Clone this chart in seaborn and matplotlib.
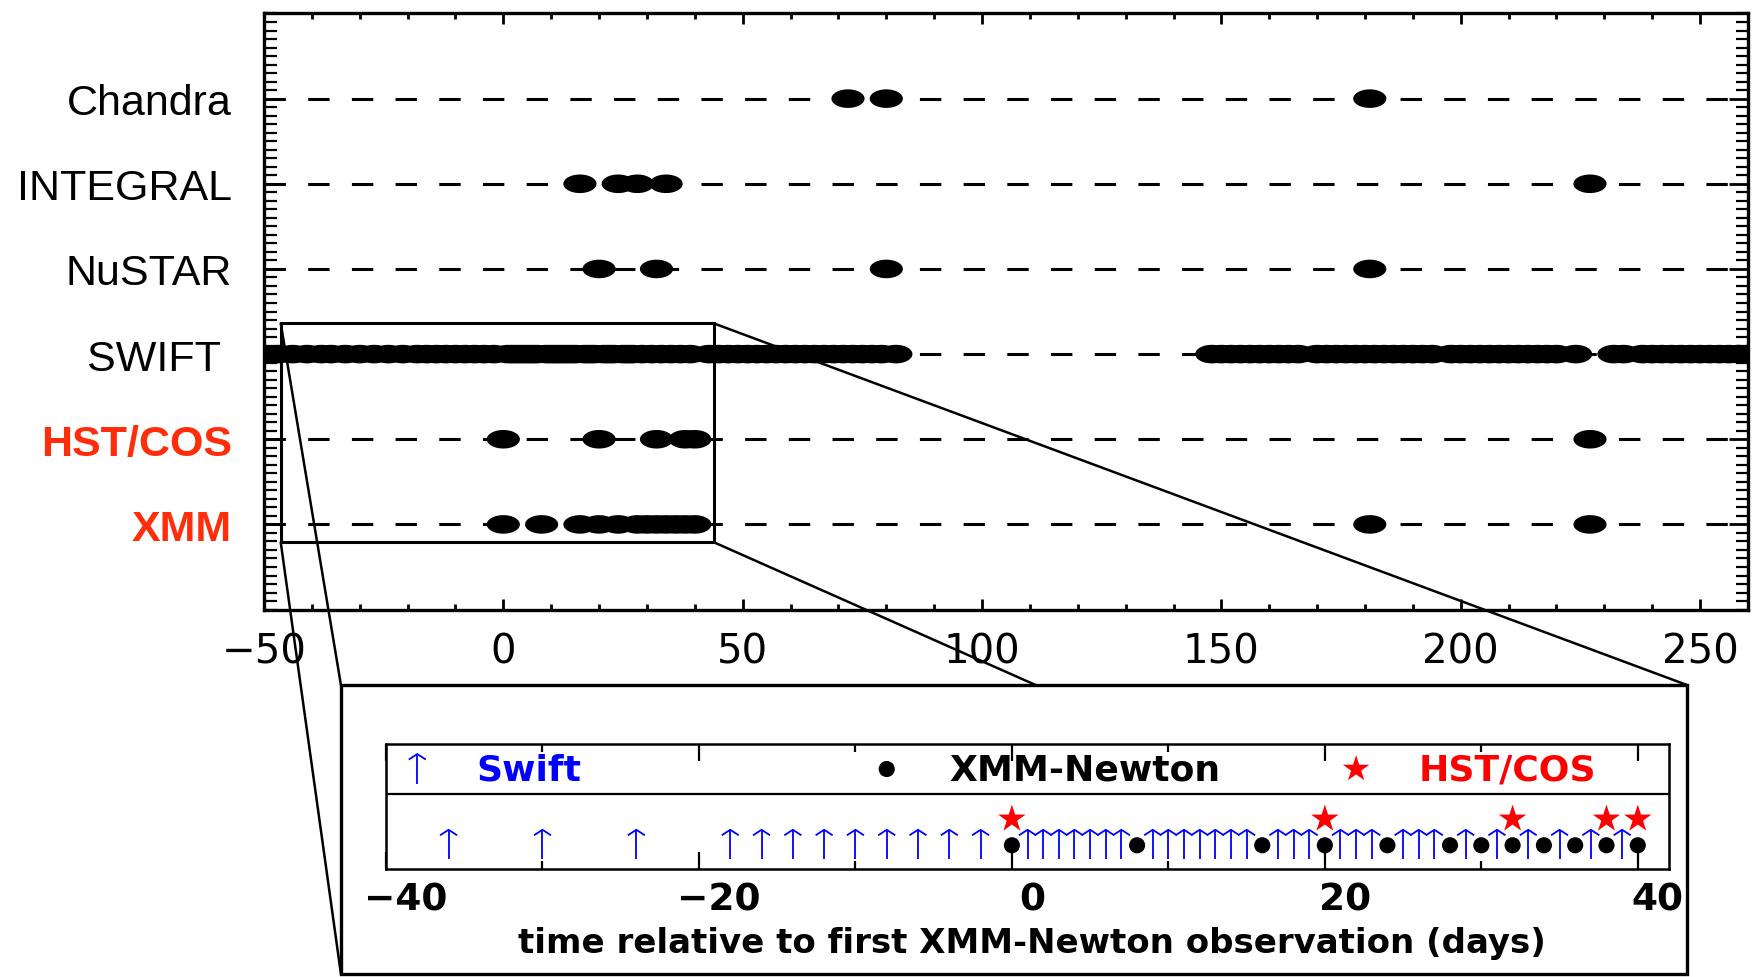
import numpy as np
import pandas as pd
import matplotlib
matplotlib.use("Agg")
import matplotlib.pyplot as plt
import seaborn as sns
from matplotlib.path import Path
from matplotlib.markers import MarkerStyle
from matplotlib.patches import Rectangle, ConnectionPatch
from matplotlib.ticker import MultipleLocator
from matplotlib.transforms import ScaledTranslation

# ---------------- data ----------------
instruments = ["XMM", "HST/COS", "SWIFT ", "NuSTAR", "INTEGRAL", "Chandra"]
label_colors = ["#ff2d0a", "#ff2d0a", "black", "black", "black", "black"]
label_weights = ["bold", "bold", "normal", "normal", "normal", "normal"]

chandra_t = [72, 80, 181]
integral_t = [16, 24, 28, 34, 227]
nustar_t = [20, 32, 80, 181]
# Swift pointings as they appear in the overview panel (dense coverage)
swift_main_t = [-50, -47, -44, -41, -38, -36, -33, -30, -27, -24, -21, -18, -16,
                -14, -12, -10, -8, -6, -4, -2, 1, 2, 3, 4, 5, 6, 7, 9, 10, 11, 12,
                13, 14, 15, 17, 18, 19, 21, 22, 23, 25, 26, 27, 29, 31, 33, 35, 37,
                39, 43, 45, 47, 49, 51, 53, 55, 57, 59, 61, 63, 65, 67, 69, 71, 73,
                75, 77, 79, 82,
                148, 150, 152, 154, 156, 158, 160, 162, 164, 166, 170, 172, 174,
                176, 178, 180, 182, 184, 186, 188, 190, 192, 194, 198, 200, 202,
                204, 206, 208, 210, 212, 214, 216, 218, 220, 224,
                232, 234, 238, 240, 242, 244, 246, 248, 250, 252, 254, 256, 258,
                260, 262]
# Swift pointings
swift_inset_t = [-36, -30, -24, -18, -16, -14, -12, -10, -8, -6, -4, -2,
                 1, 2, 3, 4, 5, 6, 7, 9, 10, 11, 12, 13, 14, 15, 17, 18, 19,
                 21, 22, 23, 25, 26, 27, 29, 31, 33, 35, 37, 39]
hst_t = [0, 20, 32, 38, 40, 227]
xmm_t = [0, 8, 16, 20, 24, 28, 30, 32, 34, 36, 38, 40, 181, 227]

series = [xmm_t, hst_t, swift_main_t, nustar_t, integral_t, chandra_t]

main_xticks = [-50, 0, 50, 100, 150, 200, 250]
inset_xticks = [-40, -20, 0, 20, 40]
legend_labels = ["Swift", "XMM-Newton", "HST/COS"]
inset_xlabel = "time relative to first XMM-Newton observation (days)"

# ---------------- style ----------------
sns.set_theme(style="white")
plt.rcParams["font.family"] = ["DejaVu Sans"]
plt.rcParams["axes.edgecolor"] = "black"
plt.rcParams["axes.labelcolor"] = "black"
plt.rcParams["text.color"] = "black"
plt.rcParams["xtick.color"] = "black"
plt.rcParams["ytick.color"] = "black"

fig = plt.figure(figsize=(17.61, 9.78), dpi=100)
fig.patch.set_facecolor("white")

# main axes
ax = fig.add_axes([0.1499, 0.3757, 0.8427, 0.6095])
ax.set_zorder(0)

rows = pd.DataFrame(
    [(inst, t) for inst, ts in zip(instruments, series) for t in ts],
    columns=["instrument", "time"],
)
row_pos = {name: i + 1 for i, name in enumerate(instruments)}
rows["row"] = rows["instrument"].map(row_pos)

theta = np.linspace(0, 2 * np.pi, 73)
ellipse = Path(np.column_stack([np.cos(theta), 0.56 * np.sin(theta)]), closed=True)

for name in instruments:
    ax.axhline(row_pos[name], color="black", lw=2.2, dashes=(7, 7.3), zorder=1)

sns.scatterplot(data=rows, x="time", y="row", marker=ellipse, s=570,
                color="black", edgecolor="none", linewidth=0, ax=ax,
                legend=False, zorder=3)

ax.set_xlim(-50, 260)
ax.set_ylim(0, 7)
ax.set_xlabel("")
ax.set_ylabel("")
ax.set_xticks(main_xticks)
ax.xaxis.set_minor_locator(MultipleLocator(10))
ax.set_yticks(range(1, len(instruments) + 1), labels=instruments)
ax.yaxis.set_minor_locator(MultipleLocator(0.1))
ax.tick_params(axis="x", which="both", direction="in", top=True, bottom=True)
ax.tick_params(axis="x", which="major", length=8, width=2, labelsize=29, pad=16)
ax.tick_params(axis="x", which="minor", length=4, width=2)
ax.tick_params(axis="y", which="both", direction="in", left=True, right=True)
ax.tick_params(axis="y", which="major", length=14, width=2, pad=23)
ax.tick_params(axis="y", which="minor", length=9, width=1.6)
for lbl, c, w in zip(ax.get_yticklabels(), label_colors, label_weights):
    lbl.set_color(c)
    lbl.set_fontweight(w)
    lbl.set_fontfamily("Liberation Sans")
    lbl.set_fontsize(31)
for sp in ax.spines.values():
    sp.set_linewidth(2.4)
    sp.set_color("black")

# zoom box on the main plot
bx0, bx1, by0, by1 = -46.5, 44.0, 0.79, 3.36
ax.add_patch(Rectangle((bx0, by0), bx1 - bx0, by1 - by0, fill=False,
                       ec="black", lw=2.2, zorder=4))

# inset frame (figure coords)
fx0, fy0, fw, fh = 0.1936, 0.0031, 0.7643, 0.2955
for (ax_pt, fig_pt) in [((bx0, by1), (fx0, fy0 + fh)),
                        ((bx0, by0), (fx0, fy0)),
                        ((bx1, by1), (fx0 + fw, fy0 + fh)),
                        ((bx1, by0), (fx0 + fw, fy0))]:
    cp = ConnectionPatch(xyA=ax_pt, coordsA=ax.transData, xyB=fig_pt,
                         coordsB=fig.transFigure, color="black", lw=1.8,
                         zorder=2)
    fig.add_artist(cp)
fig.add_artist(Rectangle((fx0, fy0), fw, fh, transform=fig.transFigure,
                         fc="white", ec="black", lw=2.4, zorder=3))

# ---------------- inset ----------------
ins = fig.add_axes([0.2192, 0.1104, 0.7286, 0.1278])
ins.set_zorder(4)
ins.set_facecolor("white")
ins.set_xlim(-40, 42)
ins.set_ylim(0, 1)

head = MarkerStyle(Path([(-1, -0.65), (0, 0), (1, -0.65)],
                        [Path.MOVETO, Path.LINETO, Path.LINETO]),
                   fillstyle="none")

# data row
ins.vlines(swift_inset_t, 0.08, 0.314, color="blue", lw=1.3, zorder=2)
sns.scatterplot(x=swift_inset_t, y=[0.314] * len(swift_inset_t), marker=head,
                s=150, color="blue", linewidth=1.3, ax=ins, legend=False,
                zorder=3)
sns.scatterplot(x=xmm_t, y=[0.19] * len(xmm_t), marker="o", s=135,
                color="black", edgecolor="none", ax=ins, legend=False, zorder=4)
sns.scatterplot(x=hst_t, y=[0.40] * len(hst_t), marker="*", s=430,
                color="red", edgecolor="none", ax=ins, legend=False, zorder=4)

# legend strip
ins.axhline(0.6, color="black", lw=1.6)
ins.vlines([-38], 0.68, 0.92, color="blue", lw=1.3)
sns.scatterplot(x=[-38], y=[0.92], marker=head, s=150, color="blue",
                linewidth=1.3, ax=ins, legend=False)
sns.scatterplot(x=[-8], y=[0.8], marker="o", s=135, color="black",
                edgecolor="none", ax=ins, legend=False)
sns.scatterplot(x=[22], y=[0.8], marker="*", s=400, color="red",
                edgecolor="none", ax=ins, legend=False)
for txt, xpos, col in zip(legend_labels, [-34.2, -4.0, 26.0],
                          ["blue", "black", "red"]):
    ins.text(xpos, 0.8, txt, color=col, fontsize=26, fontweight="bold",
             ha="left", va="center")

ins.set_xticks(inset_xticks)
ins.xaxis.set_minor_locator(MultipleLocator(10))
ins.set_yticks([])
ins.tick_params(axis="x", which="both", direction="in", top=True, bottom=True)
ins.tick_params(axis="x", which="major", length=12, width=1.6, labelsize=27,
                pad=9, labelcolor="black")
ins.tick_params(axis="x", which="minor", length=6, width=1.6)
for sp in ins.spines.values():
    sp.set_linewidth(1.8)
    sp.set_color("black")
ins.set_xlabel(inset_xlabel, fontsize=24.5, fontweight="bold", color="black")
ins.xaxis.set_label_coords(0.5035, -0.584)
ins.xaxis.label.set_va("center")
ins.set_ylabel("")

fig.canvas.draw()
shift = ScaledTranslation(0.2, 0, fig.dpi_scale_trans)
for lbl in ins.get_xticklabels():
    lbl.set_fontweight("bold")
    lbl.set_color("black")
    lbl.set_transform(lbl.get_transform() + shift)

fig.savefig("out.png", dpi=100, facecolor="white")
